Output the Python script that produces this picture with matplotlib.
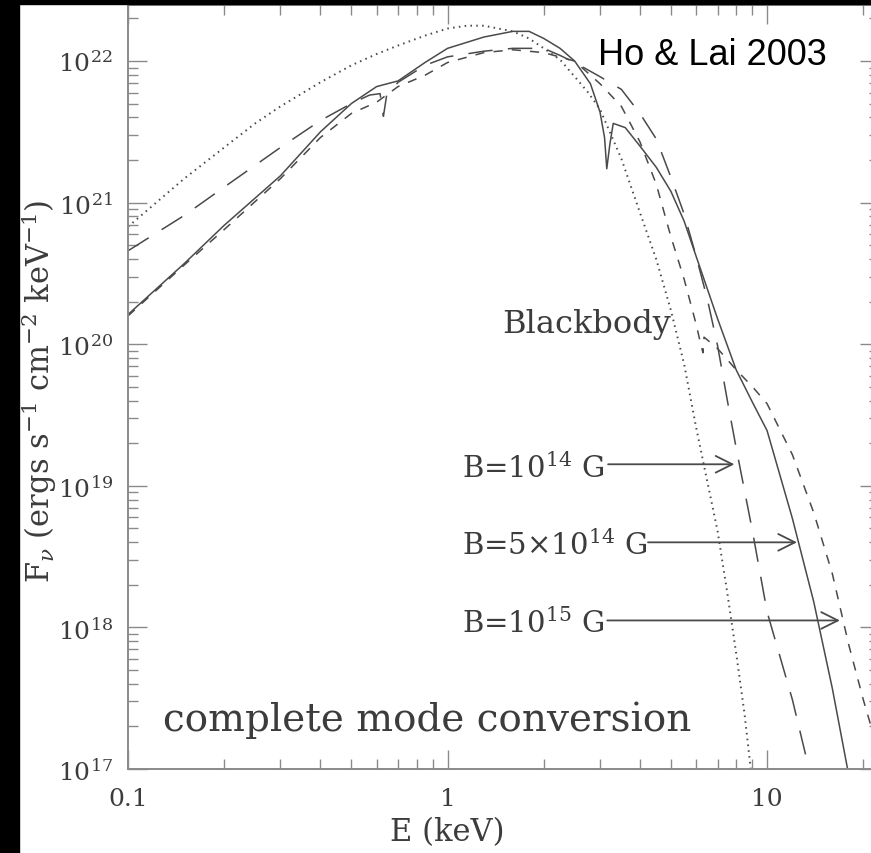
import matplotlib
matplotlib.use('Agg')
import matplotlib.pyplot as plt
import numpy as np
from matplotlib.ticker import FixedLocator, FixedFormatter, LogLocator, NullFormatter, LogFormatterMathtext
from matplotlib.patches import Rectangle

plt.rcParams['font.family'] = 'DejaVu Serif'
plt.rcParams['mathtext.fontset'] = 'dejavuserif'

# blackbody (dotted)
E_bb = [0.1, 0.15, 0.2, 0.25, 0.3, 0.4, 0.5, 0.6, 0.7, 0.85, 1.0, 1.15, 1.3, 1.6, 1.8,
        2.0, 2.25, 2.5, 2.75, 3.0, 3.5, 4.0, 4.5, 5.0, 5.5, 6.0, 6.5, 7.0, 7.5, 8.0, 8.5, 9.0]
logF_bb = [20.83, 21.17, 21.39, 21.56, 21.68, 21.85, 21.97, 22.05, 22.11, 22.18, 22.23, 22.25,
           22.25, 22.21, 22.16, 22.09, 22.01, 21.89, 21.78, 21.66, 21.31, 20.93, 20.60, 20.24,
           19.86, 19.41, 19.03, 18.68, 18.25, 17.82, 17.39, 16.89]

# B = 1e14 G (long dashed)
E_b14 = [0.1, 0.15, 0.2, 0.3, 0.4, 0.5, 0.57, 0.615, 0.63, 0.645, 0.7, 0.85, 1.0, 1.3, 1.6,
         2.0, 2.25, 2.5, 3.0, 3.5, 4.0, 4.5, 5.0, 5.5, 6.0, 6.5, 7.0, 7.5, 8.0, 9.0, 10, 12, 14]
logF_b14 = [20.66, 20.91, 21.11, 21.39, 21.58, 21.70, 21.76, 21.77, 21.61, 21.76, 21.85, 21.97,
            22.03, 22.07, 22.09, 22.09, 22.04, 21.99, 21.89, 21.80, 21.63, 21.45, 21.18, 20.92,
            20.62, 20.32, 19.99, 19.61, 19.27, 18.68, 18.11, 17.49, 16.86]

# B = 5e14 G (solid)
E_b5e14 = [0.1, 0.15, 0.2, 0.3, 0.4, 0.5, 0.6, 0.7, 0.85, 1.0, 1.3, 1.6, 1.8, 2.0, 2.25, 2.5,
           2.8, 3.0, 3.1, 3.15, 3.22, 3.3, 3.6, 4.0, 4.5, 5.0, 5.5, 6.0, 7.0, 8.0, 9.0, 10, 12,
           14, 16, 18]
logF_b5e14 = [20.21, 20.57, 20.84, 21.19, 21.50, 21.70, 21.82, 21.86, 21.99, 22.09, 22.17, 22.21,
              22.21, 22.16, 22.09, 22.00, 21.84, 21.64, 21.46, 21.24, 21.41, 21.56, 21.53, 21.40,
              21.25, 21.08, 20.87, 20.62, 20.18, 19.82, 19.59, 19.39, 18.77, 18.18, 17.57, 16.96]

# B = 1e15 G (short dashed)
E_b15 = [0.1, 0.15, 0.2, 0.3, 0.4, 0.5, 0.6, 0.7, 0.85, 1.0, 1.3, 1.6, 2.0, 2.5, 3.0, 3.5,
         4.0, 4.5, 5.0, 5.5, 6.0, 6.2, 6.3, 6.35, 7.0, 8.0, 9.0, 10, 12, 14, 16, 18, 20, 22]
logF_b15 = [20.20, 20.56, 20.81, 21.17, 21.46, 21.63, 21.71, 21.82, 21.90, 21.99, 22.06, 22.08,
            22.06, 22.00, 21.84, 21.68, 21.43, 21.13, 20.76, 20.46, 20.14, 20.00, 19.94, 20.05,
            19.97, 19.82, 19.70, 19.58, 19.22, 18.81, 18.38, 17.88, 17.49, 17.17]

b_labels = ['B=10$^{14}$ G', 'B=5×10$^{14}$ G', 'B=10$^{15}$ G']
arrow_tip_E = [7.9, 12.4, 16.9]
arrow_tail_E = [3.18, 4.24, 3.16]
arrow_F = [1.42e19, 3.99e18, 1.12e18]

xtick_vals = [0.1, 1, 10]
xtick_labels = ['0.1', '1', '10']

lc = '#4a4a4a'
tc = '#3c3c3c'
gc = '#8a8a8a'

fig = plt.figure(figsize=(8.71, 8.54), dpi=100)
fig.patches.append(Rectangle((0, 0), 19/871, 1, transform=fig.transFigure, color='black'))
fig.patches.append(Rectangle((0, 1 - 5/854), 1, 5/854, transform=fig.transFigure, color='black'))

ax = fig.add_axes([128/871, 84/854, 751/871, 764/854])
ax.set_xscale('log')
ax.set_yscale('log')

ax.plot(E_bb, 10**np.array(logF_bb), color=lc, lw=1.4, dashes=(0.8, 2.2))
ax.plot(E_b14, 10**np.array(logF_b14), color=lc, lw=1.1, dashes=(16, 10))
ax.plot(E_b5e14, 10**np.array(logF_b5e14), color=lc, lw=1.1)
ax.plot(E_b15, 10**np.array(logF_b15), color=lc, lw=1.1, dashes=(6, 6))

ax.set_xlim(0.1, 22.4)
ax.set_ylim(1e17, 2.49e22)

ax.xaxis.set_major_locator(FixedLocator(xtick_vals))
ax.xaxis.set_major_formatter(FixedFormatter(xtick_labels))
ax.xaxis.set_minor_locator(LogLocator(base=10, subs=np.arange(2, 10), numticks=20))
ax.xaxis.set_minor_formatter(NullFormatter())
ax.yaxis.set_major_locator(LogLocator(base=10, numticks=12))
ax.yaxis.set_major_formatter(LogFormatterMathtext())
ax.yaxis.set_minor_locator(LogLocator(base=10, subs=np.arange(2, 10), numticks=30))
ax.yaxis.set_minor_formatter(NullFormatter())

ax.tick_params(which='both', direction='in', top=True, right=True, color=gc, width=1.0,
               labelsize=18, labelcolor=tc)
ax.tick_params(which='major', length=13.5)
ax.tick_params(which='minor', length=7)
ax.tick_params(axis='y', pad=11)
ax.tick_params(axis='x', pad=13)
for s in ax.spines.values():
    s.set_color(gc)
    s.set_linewidth(1.4)

ax.set_xlabel('E (keV)', fontsize=22, color=tc, va='center')
ax.xaxis.set_label_coords(0.425, -0.0825)
ax.set_ylabel(r'F$_\nu$ (ergs s$^{-1}$ cm$^{-2}$ keV$^{-1}$)', fontsize=22, color=tc, va='center')
ax.yaxis.set_label_coords(-0.1185, 0.495)

ax.text(0.626, 0.9228, 'Ho & Lai 2003', transform=ax.transAxes, family='Liberation Sans',
        fontsize=26, color='black', ha='left', va='baseline')
ax.text(0.0466, 0.051, 'complete mode conversion', transform=ax.transAxes, fontsize=28,
        color=tc, ha='left', va='baseline')
ax.text(0.498, 0.572, 'Blackbody', transform=ax.transAxes, fontsize=23, color=tc,
        ha='left', va='baseline')

for lab, fy in zip(b_labels, [0.3822, 0.2814, 0.1793]):
    ax.text(0.4447, fy, lab, transform=ax.transAxes, fontsize=21, color=tc,
            ha='left', va='baseline')

for e0, e1, f in zip(arrow_tail_E, arrow_tip_E, arrow_F):
    ax.annotate('', xy=(e1, f), xytext=(e0, f),
                arrowprops=dict(arrowstyle='->', color=lc, lw=1.3, mutation_scale=30,
                                shrinkA=0, shrinkB=0))

fig.savefig('out.png', dpi=100)
